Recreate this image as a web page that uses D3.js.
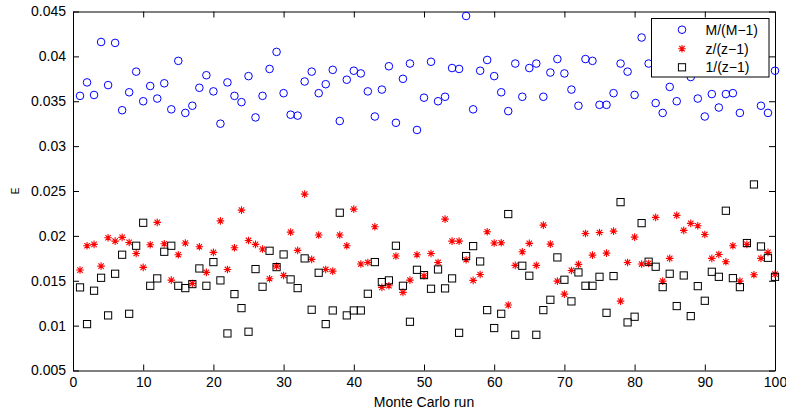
<!DOCTYPE html>
<html><head><meta charset="utf-8">
<script src="https://cdn.jsdelivr.net/npm/d3@7"></script>
<style>
body{margin:0;background:#fff}
svg{display:block}
text{font-family:"Liberation Sans",Arial,Helvetica,sans-serif;fill:#000}
</style>
</head><body>
<svg id="chart" width="786" height="412"></svg>
<script>
const seriesNames = ["M/(M\u22121)", "z/(z\u22121)", "1/(z\u22121)"];
const runs = d3.range(1, 101);
const mOverM1 = [
0.0356,0.0371,0.0357,0.0416,0.0368,0.0415,0.0340,0.0360,0.0383,0.0350,
0.0367,0.0353,0.0370,0.0341,0.0395,0.0337,0.0345,0.0365,0.0379,0.0361,
0.0325,0.0371,0.0356,0.0349,0.0378,0.0332,0.0356,0.0386,0.0405,0.0359,
0.0335,0.0334,0.0372,0.0383,0.0359,0.0369,0.0385,0.0328,0.0374,0.0384,
0.0381,0.0361,0.0333,0.0363,0.0389,0.0326,0.0375,0.0392,0.0318,0.0354,
0.0394,0.0350,0.0355,0.0387,0.0386,0.0445,0.0341,0.0384,0.0396,0.0378,
0.0360,0.0339,0.0392,0.0355,0.0387,0.0392,0.0355,0.0382,0.0397,0.0381,
0.0363,0.0345,0.0397,0.0395,0.0346,0.0346,0.0359,0.0392,0.0383,0.0357,
0.0421,0.0392,0.0348,0.0337,0.0366,0.0350,0.0395,0.0377,0.0353,0.0333,
0.0358,0.0343,0.0358,0.0359,0.0337,0.0390,0.0400,0.0345,0.0337,0.0384];
const zOverZ1 = [
0.01619,0.01890,0.01905,0.01663,0.01979,0.01942,0.01983,0.01927,0.01804,0.01649,
0.01901,0.02150,0.01912,0.01507,0.01790,0.01920,0.01470,0.01879,0.01593,0.01816,
0.02167,0.01626,0.01868,0.02287,0.01949,0.01905,0.01853,0.01522,0.01663,0.01559,
0.02042,0.01838,0.02465,0.01738,0.02009,0.01626,0.01607,0.02009,0.01890,0.02298,
0.01686,0.01704,0.02102,0.01426,0.01444,0.01775,0.01370,0.01507,0.01790,0.01556,
0.01804,0.01704,0.02187,0.01942,0.01942,0.01734,0.01504,0.01570,0.02046,0.01920,
0.01923,0.01229,0.01671,0.01823,0.01916,0.01671,0.02120,0.01908,0.01496,0.01351,
0.01615,0.01682,0.02027,0.01786,0.02038,0.01808,0.02053,0.01273,0.01704,0.01986,
0.01686,0.01693,0.02206,0.01496,0.01749,0.02228,0.02061,0.02139,0.02113,0.02016,
0.01749,0.01793,0.01712,0.01890,0.01496,0.01905,0.01567,0.01749,0.01816,0.01574];
const oneOverZ1 = [
0.01426,0.01017,0.01389,0.01533,0.01114,0.01578,0.01790,0.01132,0.01890,0.02146,
0.01444,0.01526,0.01823,0.01890,0.01444,0.01418,0.01463,0.01637,0.01444,0.01708,
0.01504,0.00913,0.01351,0.01195,0.00932,0.01630,0.01433,0.01834,0.01652,0.01793,
0.01515,0.01418,0.01749,0.01177,0.01589,0.01017,0.01169,0.02258,0.01114,0.01169,
0.01169,0.01355,0.01708,0.01485,0.01504,0.01890,0.01444,0.01043,0.01622,0.01563,
0.01411,0.01626,0.01415,0.01526,0.00920,0.01775,0.01886,0.01715,0.01173,0.00973,
0.01132,0.02243,0.00898,0.01667,0.01556,0.00898,0.01173,0.01288,0.01760,0.01511,
0.01270,0.01593,0.01444,0.01444,0.01544,0.01143,0.01552,0.02376,0.01036,0.01099,
0.02142,0.01712,0.01656,0.01429,0.01578,0.01218,0.01559,0.01106,0.01440,0.01277,
0.01600,0.01544,0.02280,0.01529,0.01429,0.01920,0.02573,0.01882,0.01756,0.01544];
const xTicks = [0,10,20,30,40,50,60,70,80,90,100];
const yTicks = [0.005,0.01,0.015,0.02,0.025,0.03,0.035,0.04,0.045];
const yTickLabels = ["0.005","0.01","0.015","0.02","0.025","0.03","0.035","0.04","0.045"];
const xLabel = "Monte Carlo run";
const yLabel = "E";

const svg = d3.select("#chart");
const L = 73, R = 775, T = 11.5, B = 370.5;
const x = d3.scaleLinear().domain([0, 100]).range([L, R]);
const y = d3.scaleLinear().domain([0.005, 0.045]).range([B, T]);
const fs = 14, tk = 6;

svg.append("rect").attr("width", 786).attr("height", 412).attr("fill", "#fff");

function styleAxis(g) {
  g.selectAll("path.domain").attr("stroke", "#000").attr("stroke-width", 1);
  g.selectAll(".tick line").attr("stroke", "#000").attr("stroke-width", 1);
  g.selectAll("text").attr("font-size", fs).attr("font-family", '"Liberation Sans",Arial,sans-serif').attr("fill", "#000");
}
const gb = svg.append("g").attr("transform", `translate(0,${B})`)
  .call(d3.axisBottom(x).tickValues(xTicks).tickFormat(d3.format("d")).tickSizeInner(-tk).tickSizeOuter(0).tickPadding(7));
styleAxis(gb);
const gt = svg.append("g").attr("transform", `translate(0,${T})`)
  .call(d3.axisTop(x).tickValues(xTicks).tickFormat("").tickSizeInner(-tk).tickSizeOuter(0));
styleAxis(gt);
const gl = svg.append("g").attr("transform", `translate(${L},0)`)
  .call(d3.axisLeft(y).tickValues(yTicks).tickFormat((d, i) => yTickLabels[i]).tickSizeInner(-tk).tickSizeOuter(0).tickPadding(7));
styleAxis(gl);
const gr = svg.append("g").attr("transform", `translate(${R},0)`)
  .call(d3.axisRight(y).tickValues(yTicks).tickFormat("").tickSizeInner(-tk).tickSizeOuter(0));
styleAxis(gr);

// markers
const starPath = "M-3.8,0H3.8M0,-3.8V3.8M-2.7,-2.7L2.7,2.7M-2.7,2.7L2.7,-2.7";
function drawCircle(sel) {
  sel.append("circle").attr("r", 3.8).attr("fill", "none").attr("stroke", "#0000ff").attr("stroke-width", 1);
}
function drawStar(sel) {
  sel.append("path").attr("d", starPath).attr("fill", "none").attr("stroke", "#ff0000").attr("stroke-width", 1.1);
}
function drawSquare(sel) {
  sel.append("rect").attr("x", -3.6).attr("y", -3.6).attr("width", 7.2).attr("height", 7.2)
    .attr("fill", "none").attr("stroke", "#000").attr("stroke-width", 1);
}
const series = [
  {vals: mOverM1, draw: drawCircle},
  {vals: zOverZ1, draw: drawStar},
  {vals: oneOverZ1, draw: drawSquare}
];
series.forEach(s => {
  const g = svg.append("g");
  g.selectAll("g").data(runs).join("g")
    .attr("transform", (r, i) => `translate(${x(r)},${y(s.vals[i])})`)
    .call(s.draw);
});

// axis labels
svg.append("text").attr("x", (L + R) / 2).attr("y", 407).attr("text-anchor", "middle")
  .attr("font-size", fs).text(xLabel);
svg.append("text").attr("transform", `translate(18.5,${(T + B) / 2}) rotate(-90)`)
  .attr("text-anchor", "middle").attr("font-size", 10).text(yLabel);

// legend
const lg = svg.append("g");
lg.append("rect").attr("x", 651.5).attr("y", 18.5).attr("width", 117.5).attr("height", 58.5)
  .attr("fill", "#fff").attr("stroke", "#000").attr("stroke-width", 1);
const legY = [29.7, 48.7, 67.3];
series.forEach((s, i) => {
  const e = lg.append("g").attr("transform", `translate(682,${legY[i]})`);
  s.draw(e);
  lg.append("text").attr("x", 705.5).attr("y", legY[i]).attr("dy", "0.35em")
    .attr("font-size", fs).text(seriesNames[i]);
});
</script>
</body></html>
